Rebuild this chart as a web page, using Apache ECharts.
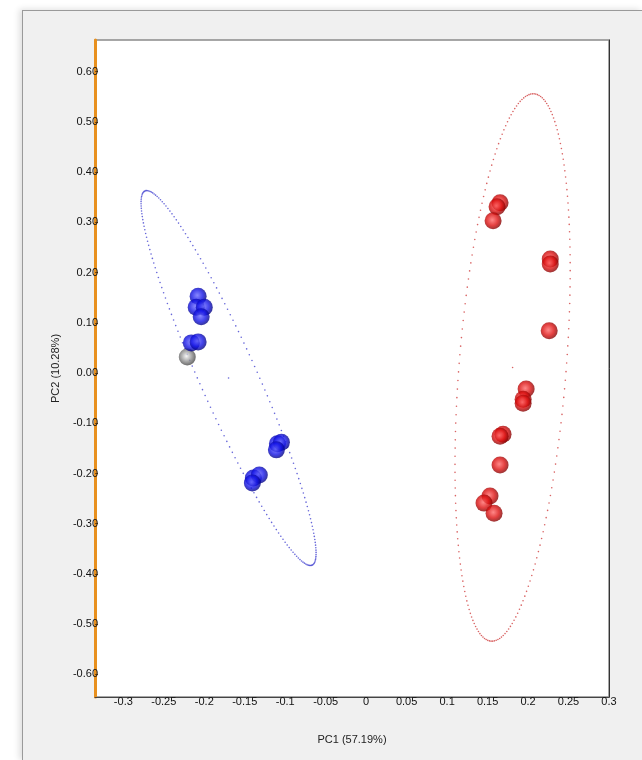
<!DOCTYPE html>
<html>
<head>
<meta charset="utf-8">
<script src="https://cdn.jsdelivr.net/npm/echarts@6/dist/echarts.min.js"></script>
<style>
  body { margin: 0; background: #fff; }
  .panel {
    position: absolute; left: 22px; top: 10px; width: 620px; height: 750px;
    background: #f0f0f0; border-left: 1px solid #9a9a9a; border-top: 1px solid #9a9a9a;
    box-shadow: -3px -1px 6px rgba(0,0,0,0.12);
  }
  #myCharts { position: absolute; left: 0; top: 0; width: 642px; height: 760px; }
</style>
</head>
<body>
<div class="panel"></div>
<div id="myCharts"></div>
<script>
// PCA scores, group 1 (blue)
var blueX = [-0.2076, -0.2100, -0.2000, -0.2038, -0.2160, -0.2076, -0.1097, -0.1047, -0.1109, -0.1394, -0.1320, -0.1406];
var blueY = [0.153, 0.131, 0.131, 0.112, 0.060, 0.062, -0.141, -0.138, -0.153, -0.209, -0.203, -0.219];
// single grey sample
var greyX = [-0.221];
var greyY = [0.032];
// group 2 (red)
var redX = [0.1654, 0.1617, 0.1568, 0.2274, 0.2274, 0.2261, 0.1976, 0.1939, 0.1939, 0.1691, 0.1654, 0.1654, 0.1530, 0.1456, 0.1580];
var redY = [0.339, 0.331, 0.303, 0.227, 0.217, 0.084, -0.032, -0.052, -0.060, -0.122, -0.126, -0.183, -0.245, -0.259, -0.279];

// confidence ellipses: centre + two conjugate semi-axis vectors (data units)
var blueEllCenter = [-0.170, -0.010];
var blueEllAxisA = [0.1032, -0.3725];
var blueEllAxisB = [-0.0322, -0.0231];
var redEllCenter = [0.1809, 0.011];
var redEllAxisA = [0.0266, 0.5448];
var redEllAxisB = [0.0660, -0.0083];

// tick labels
var xTickLabels = ["-0.3", "-0.25", "-0.2", "-0.15", "-0.1", "-0.05", "0", "0.05", "0.1", "0.15", "0.2", "0.25", "0.3"];
var yTickLabels = ["-0.60", "-0.50", "-0.40", "-0.30", "-0.20", "-0.10", "0.00", "0.10", "0.20", "0.30", "0.40", "0.50", "0.60"];

function zip(xs, ys) {
  return xs.map(function (x, i) { return [x, ys[i]]; });
}
function ellipsePoints(c, a, b) {
  var pts = [];
  var n = 200;
  for (var i = 0; i < n; i++) {
    var t = 2 * Math.PI * i / n;
    pts.push([c[0] + a[0] * Math.cos(t) + b[0] * Math.sin(t),
              c[1] + a[1] * Math.cos(t) + b[1] * Math.sin(t)]);
  }
  pts.push(c.slice()); // centre dot
  return pts;
}
function sphere(hi, mid, lo) {
  return new echarts.graphic.RadialGradient(0.45, 0.45, 0.6, [
    { offset: 0, color: hi },
    { offset: 0.55, color: mid },
    { offset: 1, color: lo }
  ]);
}

var xTicks = xTickLabels.map(Number);
var yTicks = yTickLabels.map(Number);
var font = "Liberation Sans, Arial, sans-serif";

var chartOptions = {
  animation: false,
  grid: {
    left: 95, right: 33, top: 40, bottom: 63,
    show: true,
    backgroundColor: "#fff",
    borderColor: "#8a8a8a",
    borderWidth: 1.5
  },
  xAxis: {
    type: "value",
    min: -0.335,
    max: 0.3,
    name: "PC1 (57.19%)",
    nameLocation: "middle",
    nameGap: 37,
    nameTextStyle: { color: "#222", fontSize: 11, fontFamily: font },
    axisLine: { onZero: false, lineStyle: { color: "#444", width: 1 } },
    axisTick: { show: false },
    axisLabel: {
      customValues: xTicks,
      margin: -1,
      color: "#111",
      fontSize: 11,
      fontFamily: font,
      formatter: function (v) {
        var i = xTicks.indexOf(v);
        return i >= 0 ? xTickLabels[i] : "";
      }
    },
    splitLine: { show: false }
  },
  yAxis: [
    {
      type: "value",
      min: -0.645,
      max: 0.663,
      name: "PC2 (10.28%)",
      nameLocation: "middle",
      nameGap: 34,
      nameRotate: 90,
      nameTextStyle: { color: "#222", fontSize: 11, fontFamily: font },
      axisLine: { onZero: false, lineStyle: { color: "#e8901e", width: 3 } },
      axisTick: { show: true, inside: true, length: 3, customValues: yTicks, lineStyle: { color: "#7a4a10" } },
      axisLabel: {
        customValues: yTicks,
        margin: -3,
        color: "#111",
        fontSize: 11,
        fontFamily: font,
        formatter: function (v) { return v.toFixed(2); }
      },
      splitLine: { show: false }
    },
    {
      type: "value",
      position: "right",
      min: -0.645,
      max: 0.663,
      axisLine: { show: true, onZero: false, lineStyle: { color: "#333", width: 1 } },
      axisTick: { show: false },
      axisLabel: { show: false },
      splitLine: { show: false }
    }
  ],
  series: [
    {
      name: "blue ellipse",
      type: "scatter",
      silent: true,
      symbolSize: 1.6,
      itemStyle: { color: "#4040d0", opacity: 0.8 },
      data: ellipsePoints(blueEllCenter, blueEllAxisA, blueEllAxisB)
    },
    {
      name: "red ellipse",
      type: "scatter",
      silent: true,
      symbolSize: 1.6,
      itemStyle: { color: "#d03c3c", opacity: 0.8 },
      data: ellipsePoints(redEllCenter, redEllAxisA, redEllAxisB)
    },
    {
      name: "grey",
      type: "scatter",
      symbolSize: 17,
      itemStyle: { color: sphere("#f4f4f4", "#8c8c8c", "#3a3a3a") },
      data: zip(greyX, greyY)
    },
    {
      name: "blue",
      type: "scatter",
      symbolSize: 17,
      itemStyle: { color: sphere("#6a6aff", "#1414e6", "#00006e") },
      data: zip(blueX, blueY)
    },
    {
      name: "red",
      type: "scatter",
      symbolSize: 17,
      itemStyle: { color: sphere("#ff6a6a", "#dc1010", "#700000") },
      data: zip(redX, redY)
    }
  ]
};

var chart = echarts.init(document.getElementById("myCharts"));
chart.setOption(chartOptions);
</script>
</body>
</html>
